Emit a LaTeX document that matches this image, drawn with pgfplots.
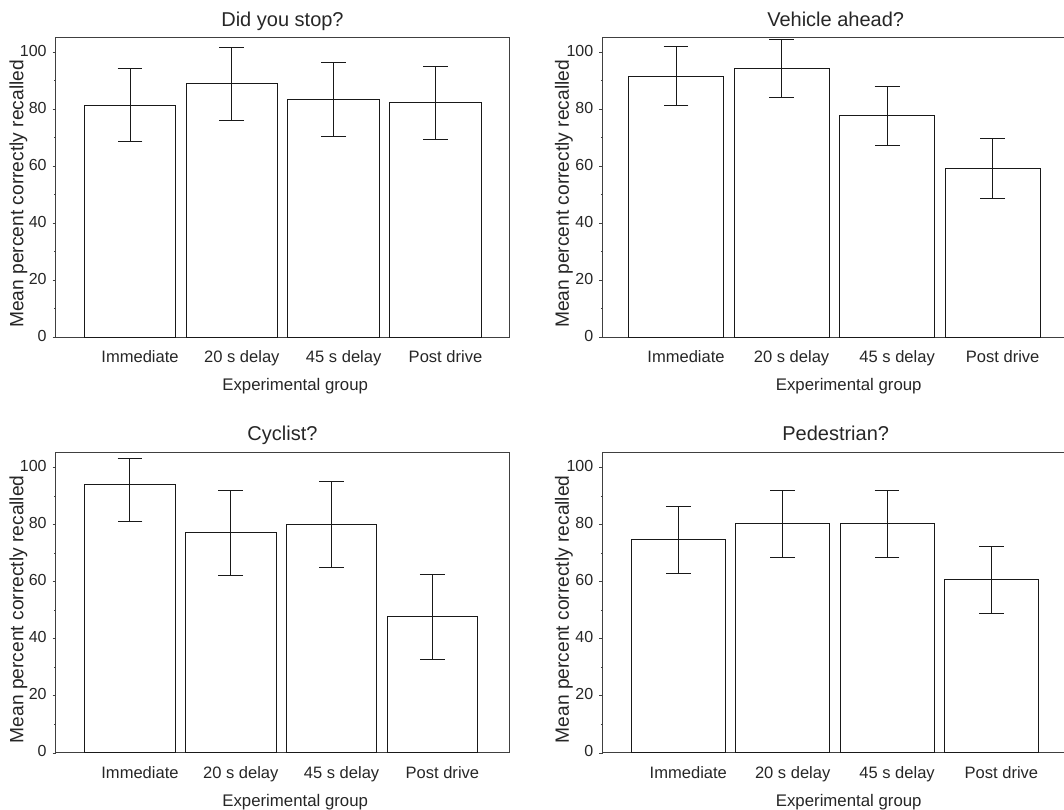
\documentclass[border=0pt]{standalone}
\usepackage{fontspec}
\setmainfont{Liberation Sans}
\usepackage{pgfplots}
\pgfplotsset{compat=1.18}
\definecolor{axgray}{HTML}{404040}
\pgfplotsset{
  panel/.style={
    scale only axis, anchor=south west,
    ybar, bar width=0.9,
    ymin=0, ymax=105.3,
    ytick={0,20,40,60,80,100}, minor y tick num=1,
    tick align=outside, ytick pos=left,
    major tick length=2.6pt, minor tick length=1.4pt,
    every tick/.style={axgray, line width=0.7pt},
    xtick={0,1,2,3},
    xticklabels={Immediate,20 s delay,45 s delay,Post drive},
    major x tick style={draw=none},
    axis line style={axgray, line width=0.75pt},
    /pgf/number format/assume math mode=true,
    yticklabel style={font=\fontsize{12}{14}\selectfont, text=black!85, xshift=-0.9pt, yshift=1.2pt},
    xticklabel style={font=\fontsize{12.4}{14}\selectfont, text=black!85, anchor=base, yshift=-16.3pt, xshift=7.5pt},
    xlabel={Experimental group},
    ylabel={Mean percent correctly recalled},
    xlabel style={font=\fontsize{12.6}{15}\selectfont, text=black!85, at={(axis description cs:0.528,0)}, anchor=base, yshift=-40pt},
    every axis y label/.style={font=\fontsize{14.4}{17}\selectfont, text=black!85, at={(axis description cs:-0.083,0.478)}, rotate=90, anchor=center},
    title style={font=\fontsize{15}{18}\selectfont, text=black!85, at={(axis description cs:0.5,1)}, anchor=base, yshift=2pt},
  },
  bars/.style={fill=white, draw=black!90, line width=0.75pt,
    error bars/.cd, y dir=both, y explicit,
    error bar style={line width=0.75pt, black!90},
    error mark options={rotate=90, mark size=9.3pt, line width=0.75pt, black!90}},
}
\begin{document}
\begin{tikzpicture}
% Top left
\begin{axis}[panel, at={(42pt,354.5pt)}, width=339.75pt, height=225pt,
  xmin=-0.727, xmax=3.722, title={Did you stop?}]
\addplot[bars] coordinates {(0,81.5) +- (0,12.9) (1,89.0) +- (0,12.9) (2,83.4) +- (0,13.0) (3,82.3) +- (0,12.9)};
\end{axis}
% Top right
\begin{axis}[panel, at={(452pt,354.5pt)}, width=349.5pt, height=225pt,
  xmin=-0.695, xmax=3.72, title={Vehicle ahead?}]
\addplot[bars] coordinates {(0,91.6) +- (0,10.35) (1,94.4) +- (0,10.3) (2,77.8) +- (0,10.4) (3,59.2) +- (0,10.5)};
\end{axis}
% Bottom left
\begin{axis}[panel, at={(42pt,42.75pt)}, width=339.75pt, height=225.5pt,
  xmin=-0.734, xmax=3.76, title={Cyclist?}, title style={yshift=0.6pt}]
\addplot[bars] coordinates {(0,94.0) += (0,9.3) -= (0,13.1) (1,77.1) +- (0,14.9) (2,80.0) +- (0,15.0) (3,47.7) +- (0,14.8)};
\end{axis}
% Bottom right
\begin{axis}[panel, at={(452pt,42.75pt)}, width=349.5pt, height=225.5pt,
  xmin=-0.725, xmax=3.74, title={Pedestrian?}, title style={yshift=0.6pt}]
\addplot[bars] coordinates {(0,74.6) +- (0,11.65) (1,80.2) +- (0,11.6) (2,80.2) +- (0,11.6) (3,60.7) +- (0,11.7)};
\end{axis}
\pgfresetboundingbox
\useasboundingbox (0,0) rectangle (798pt,607.5pt);
\end{tikzpicture}
\end{document}
